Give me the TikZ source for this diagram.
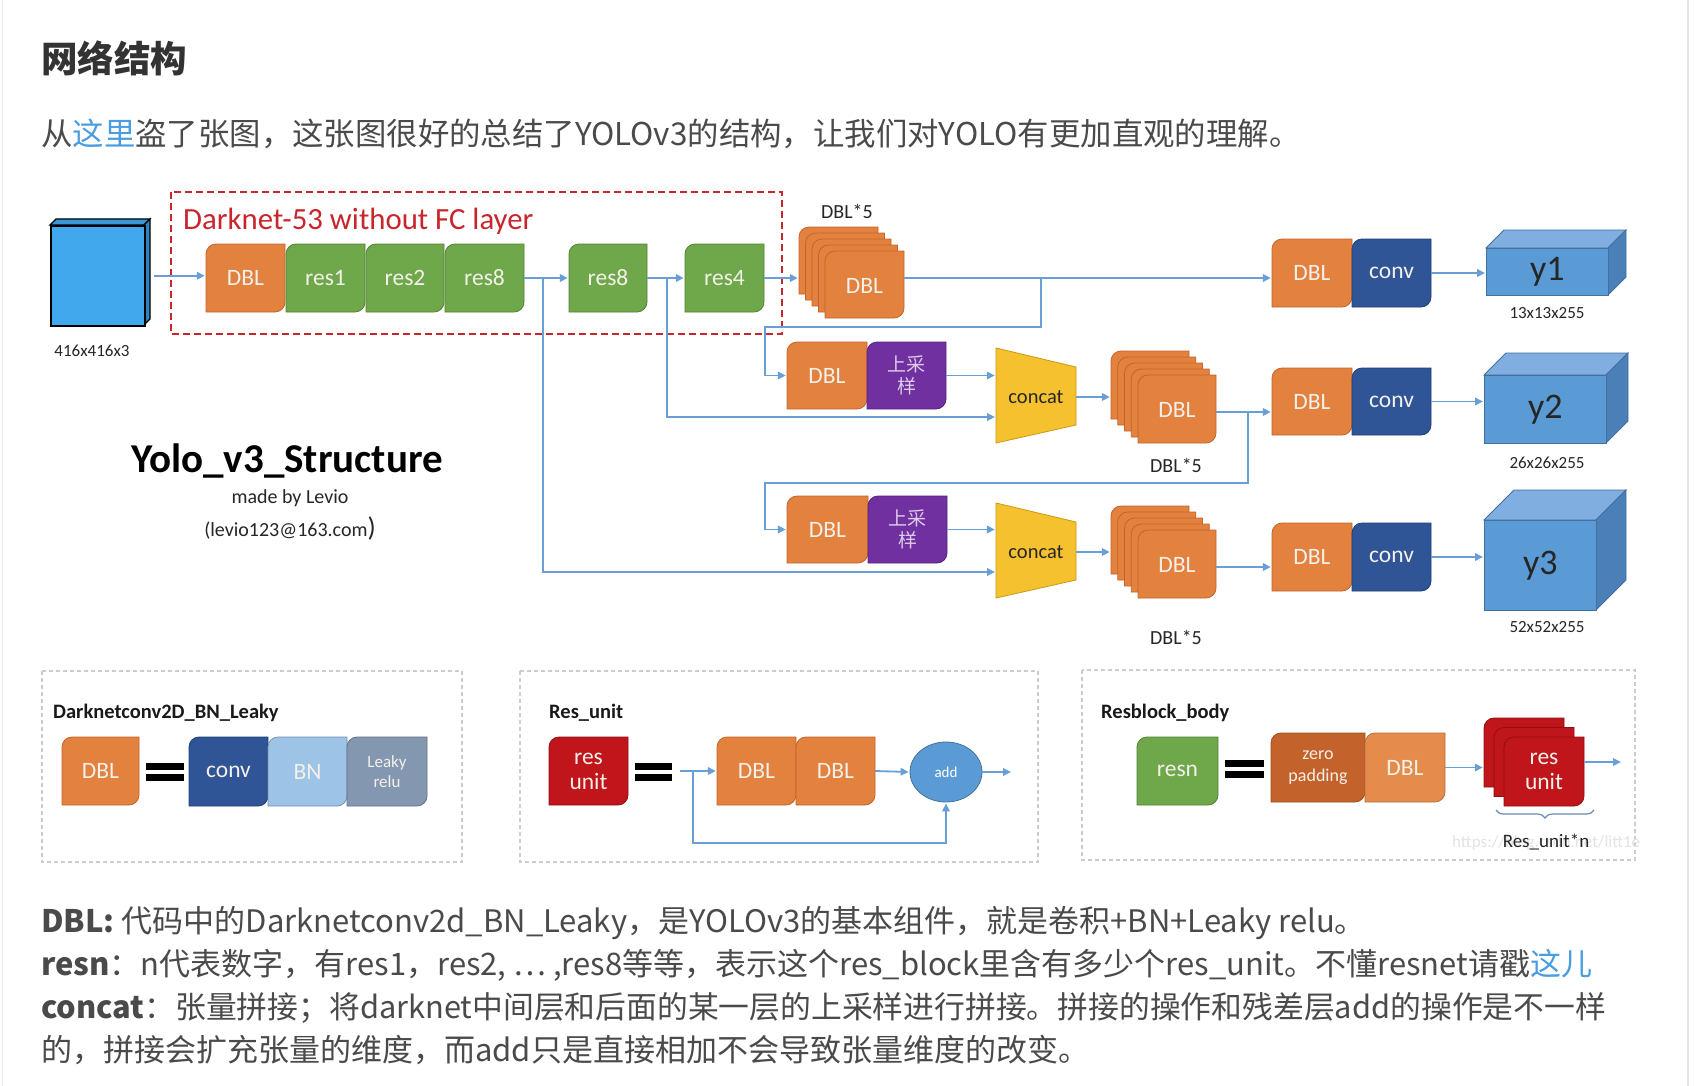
\documentclass[tikz,border=0pt]{standalone}
\usepackage{fontspec}
\setmainfont{Carlito}
\newfontfamily\cjk{Noto Sans CJK SC}
\usetikzlibrary{arrows.meta,decorations.pathreplacing,shapes.geometric}
\definecolor{org}{HTML}{E3813F}\definecolor{orgB}{HTML}{C4642A}
\definecolor{grn}{HTML}{6FA84A}\definecolor{grnB}{HTML}{557F36}
\definecolor{pur}{HTML}{7030A0}\definecolor{purB}{HTML}{56237E}
\definecolor{cvb}{HTML}{2F5597}\definecolor{cvbB}{HTML}{203F73}
\definecolor{ylw}{HTML}{F5C12E}\definecolor{ylwB}{HTML}{C99A12}
\definecolor{rbx}{HTML}{C9252C}
\definecolor{lnc}{HTML}{6A9ED6}
\definecolor{cF}{HTML}{5B9BD5}\definecolor{cT}{HTML}{80AEE0}\definecolor{cS}{HTML}{4A7FB8}\definecolor{cE}{HTML}{41719C}
\definecolor{iF}{HTML}{41A8EE}\definecolor{iT}{HTML}{3A98D8}\definecolor{iS}{HTML}{2E84C0}
\definecolor{bnc}{HTML}{9DC3E6}\definecolor{lrc}{HTML}{8497B0}
\definecolor{rsu}{HTML}{C0151A}\definecolor{rsuB}{HTML}{8E0F12}
\definecolor{zpc}{HTML}{C4622B}\definecolor{dlc}{HTML}{E58B4C}
\definecolor{txt}{HTML}{333333}\definecolor{body}{HTML}{4A4A4A}\definecolor{link}{HTML}{4A9DE0}
\definecolor{blkT}{HTML}{F4F0EA}\definecolor{upT}{HTML}{DCCCEA}
\newcommand\shp[5]{\filldraw[#1] (#2,#3+10) .. controls (#2,#3+4.5) and (#2+4.5,#3) .. (#2+10,#3) -- (#4,#3) -- (#4,#5-10) .. controls (#4,#5-4.5) and (#4-4.5,#5) .. (#4-10,#5) -- (#2,#5) -- cycle;}
\newcommand\blk[8]{\shp{#6}{#2}{#3}{#4}{#5}%
  \node[lbl,minimum width={#4-#2},minimum height={#5-#3},#7] (#1) at ({(#2+#4)/2},{(#3+#5)/2}) {#8};}
\newcommand\cube[7]{%
  \filldraw[fill=cT,draw=cE,line width=0.8] (#2,#3) -- (#2+#6,#3-#6) -- (#4+#6,#3-#6) -- (#4,#3) -- cycle;
  \filldraw[fill=cS,draw=cE,line width=0.8] (#4,#3) -- (#4+#6,#3-#6) -- (#4+#6,#5-#6) -- (#4,#5) -- cycle;
  \node[fill=cF,draw=cE,line width=0.8,inner sep=0,minimum width={#4-#2},minimum height={#5-#3},anchor=north west,font=\fontsize{36}{38}\selectfont,text=black!85] (#1) at (#2,#3) {#7};}
\begin{document}
\begin{tikzpicture}[x=1pt,y=-1pt,
  oblk/.style={fill=org,draw=orgB,line width=0.8},
  gblk/.style={fill=grn,draw=grnB,line width=0.8},
  pblk/.style={fill=pur,draw=purB,line width=0.8},
  cblk/.style={fill=cvb,draw=cvbB,line width=0.8},
  rblk/.style={fill=rsu,draw=rsuB,line width=0.8},
  lbl/.style={inner sep=0,align=center,text=blkT,font=\fontsize{23.5}{25}\selectfont},
  uptxt/.style={font=\cjk\fontsize{19}{22}\selectfont,text=upT},
  arr/.style={draw=lnc,line width=1.8pt,-{Triangle[length=8pt,width=7.5pt]},shorten >=1pt},
  dim/.style={inner sep=0,font=\fontsize{17}{19}\selectfont,text=black!85},
  pnl/.style={draw=gray!40,dash pattern=on 4pt off 3pt,line width=1.3pt},
  ptitle/.style={anchor=west,inner sep=0,font=\bfseries\fontsize{20.5}{22}\selectfont,text=black!90},
  eqbar/.style={fill=black},
  para/.style={anchor=west,inner sep=0,font=\cjk\fontsize{31}{34}\selectfont,text=body}]
\fill[white] (0,0) rectangle (1694,1086);
\useasboundingbox (0,0) rectangle (1694,1086);
\draw[gray!15,line width=1pt] (2,0) -- (2,1086);
\draw[gray!20,line width=1.5pt] (1688,0) -- (1688,1086);

% header texts
\node[anchor=west,inner sep=0,font=\cjk\bfseries\fontsize{36.5}{40}\selectfont,text=txt] (head) at (41,58) {网络结构};
\node[para,font=\cjk\fontsize{31.4}{34}\selectfont] (intro) at (41,134) {从\textcolor{link}{这里}盗了张图，这张图很好的总结了YOLOv3的结构，让我们对YOLO有更加直观的理解。};

% input cube
\filldraw[fill=iT,draw=black,line width=1.2] (50,225) -- (56,219) -- (150,219) -- (144,225) -- cycle;
\filldraw[fill=iS,draw=black,line width=1.2] (144,225) -- (150,219) -- (150,319) -- (144,325) -- cycle;
\node[draw=black,fill=iF,line width=1.5,inner sep=0,minimum width=94,minimum height=100,anchor=north west] (inp) at (50,225) {};
\node[dim] (inl) at (92,351) {416x416x3};

% darknet box
\draw[rbx,line width=2.2pt,dash pattern=on 7pt off 4pt] (171,192) rectangle (782,334);
\node[anchor=west,inner sep=0,text=rbx,font=\fontsize{30.8}{32}\selectfont] (dkl) at (183,221) {Darknet-53 without FC layer};

% row 1 blocks
\blk{dbl0}{206}{244}{285}{312}{oblk}{}{DBL}
\blk{res1}{286}{244}{365}{312}{gblk}{}{res1}
\blk{res2}{366}{244}{444}{312}{gblk}{}{res2}
\blk{res8a}{445}{244}{524}{312}{gblk}{}{res8}
\blk{res8b}{569}{244}{647}{312}{gblk}{}{res8}
\blk{res4}{685}{244}{764}{312}{gblk}{}{res4}

% stack 1
\foreach \i in {4,3,2,1,0} {\shp{oblk}{825-\i*6.5}{251-\i*6}{904-\i*6.5}{318-\i*6}}
\node[lbl] (s1t) at (864.5,286) {DBL};
\node[inner sep=0,minimum width=105,minimum height=91] (s1) at (851.5,272.5) {};
\node[dim,font=\fontsize{20}{22}\selectfont] (s1l) at (847,211) {DBL*5};

% row 2
\blk{dbl2}{787}{342}{867}{409}{oblk}{}{DBL}
\blk{up2}{867}{342}{946}{409}{pblk}{uptxt}{上采\\样}
\filldraw[fill=ylw,draw=ylwB,line width=0.8] (996,348) -- (1076,367) -- (1076,425) -- (996,443) -- cycle;
\node[inner sep=0,minimum width=80,minimum height=95,font=\fontsize{20.5}{22}\selectfont,text=black!85] (cc2) at (1036,397) {concat};
\foreach \i in {4,3,2,1,0} {\shp{oblk}{1138-\i*6.75}{375-\i*6}{1216-\i*6.75}{443-\i*6}}
\node[lbl] (s2t) at (1177,410) {DBL};
\node[inner sep=0,minimum width=105,minimum height=92] (s2) at (1163.5,397) {};
\node[dim,font=\fontsize{20}{22}\selectfont] (s2l) at (1176,465) {DBL*5};

% row 3
\blk{dbl3}{787}{496}{868}{563}{oblk}{}{DBL}
\blk{up3}{868}{496}{947}{563}{pblk}{uptxt}{上采\\样}
\filldraw[fill=ylw,draw=ylwB,line width=0.8] (996,503) -- (1076,522) -- (1076,580) -- (996,598) -- cycle;
\node[inner sep=0,minimum width=80,minimum height=95,font=\fontsize{20.5}{22}\selectfont,text=black!85] (cc3) at (1036,552) {concat};
\foreach \i in {4,3,2,1,0} {\shp{oblk}{1138-\i*6.75}{530-\i*6}{1216-\i*6.75}{598-\i*6}}
\node[lbl] (s3t) at (1177,565) {DBL};
\node[inner sep=0,minimum width=105,minimum height=92] (s3) at (1163.5,552) {};
\node[dim,font=\fontsize{20}{22}\selectfont] (s3l) at (1176,637) {DBL*5};

% output heads
\blk{dby1}{1272}{239}{1352}{307}{oblk}{}{DBL}
\blk{cv1}{1352}{239}{1431}{307}{cblk}{}{conv}
\blk{dby2}{1272}{368}{1352}{435}{oblk}{}{DBL}
\blk{cv2}{1352}{368}{1431}{435}{cblk}{}{conv}
\blk{dby3}{1272}{523}{1352}{591}{oblk}{}{DBL}
\blk{cv3}{1352}{523}{1431}{591}{cblk}{}{conv}
\cube{y1}{1486}{248}{1608}{295}{18}{y1}
\cube{y2}{1484}{375}{1606}{443}{22}{y2}
\cube{y3}{1484}{520}{1596}{610}{30}{y3}
\node[dim] (y1l) at (1547,313) {13x13x255};
\node[dim] (y2l) at (1547,463) {26x26x255};
\node[dim] (y3l) at (1547,627) {52x52x255};

% title
\node[inner sep=0,font=\bfseries\fontsize{41}{44}\selectfont,text=black] (tt) at (287,461) {Yolo\_v3\_Structure};
\node[inner sep=0,font=\fontsize{20}{22}\selectfont,text=black!85] (mb) at (290,498) {made by Levio};
\node[inner sep=0,font=\fontsize{20}{22}\selectfont,text=black!85] (em) at (290,528) {(levio123@163.com{\fontsize{27}{27}\selectfont)}};

% connectors
\draw[arr] ([xshift=8pt]inp.east) -- (inp.east -| dbl0.west);
\draw[arr] (res8a.east) -- (res8b.west);
\draw[arr] (res8b.east) -- (res4.west);
\draw[arr] (res4.east) -- (res4.east -| s1.west);
\coordinate (j1) at (543,278); \coordinate (k3) at (996,572);
\coordinate (j2) at (667,278); \coordinate (k2) at (996,417);
\draw[arr] (j1) |- (k3);
\draw[arr] (j2) |- (k2);
\draw[arr] (s1.east |- res4.east) -- (res4.east -| dby1.west);
\coordinate (j3) at (1041,278); \coordinate (t2) at (765,327);
\draw[arr] (j3) |- (t2) |- (dbl2.west);
\draw[arr] (up2.east) -- (up2.east -| cc2.west);
\draw[arr] (cc2.east) -- (cc2.east -| s2.west);
\coordinate (r2) at (1216,412);
\draw[arr] (r2) -- (r2 -| dby2.west);
\coordinate (j4) at (1248,412); \coordinate (t3) at (765,483);
\draw[arr] (j4) |- (t3) |- (dbl3.west);
\draw[arr] (up3.east) -- (up3.east -| cc3.west);
\draw[arr] (cc3.east) -- (cc3.east -| s3.west);
\coordinate (r3) at (1216,567);
\draw[arr] (r3) -- (r3 -| dby3.west);
\draw[arr] (cv1.east) -- (cv1.east -| y1.west);
\draw[arr] (cv2.east) -- (cv2.east -| y2.west);
\draw[arr] (cv3.east) -- (cv3.east -| y3.west);

% bottom panels
\draw[pnl] (42,671) rectangle (462,862);
\draw[pnl] (520,671) rectangle (1038,862);
\draw[pnl] (1082,670) rectangle (1635,860);

% panel 1
\node[ptitle] (pt1) at (53,713) {Darknetconv2D\_BN\_Leaky};
\blk{pdbl}{62}{737}{139}{805}{oblk}{}{DBL}
\fill[eqbar] (146,763) rectangle (184,770);
\fill[eqbar] (146,774) rectangle (184,781);
\blk{pconv}{189}{737}{268}{806}{cblk}{}{conv}
\blk{pbn}{268}{737}{347}{806}{fill=bnc,draw=bnc!75!black,line width=0.8}{}{BN}
\blk{plr}{347}{737}{427}{806}{fill=lrc,draw=lrc!75!black,line width=0.8}{font=\fontsize{17}{20}\selectfont}{Leaky\\relu}

% panel 2
\node[ptitle] (pt2) at (549,713) {Res\_unit};
\blk{pru}{549}{737}{628}{805}{rblk}{}{res\\unit}
\fill[eqbar] (635,763) rectangle (672,770);
\fill[eqbar] (635,774) rectangle (672,781);
\blk{rd1}{717}{737}{796}{805}{oblk}{}{DBL}
\blk{rd2}{796}{737}{875}{805}{oblk}{}{DBL}
\node[ellipse,fill=cF,draw=cE,line width=0.8,inner sep=0,minimum width=72,minimum height=60,font=\fontsize{15}{16}\selectfont,text=white] (add) at (946,772) {add};
\coordinate (q0) at (680,771);
\draw[arr] (q0) -- (q0 -| rd1.west);
\draw[arr] (rd2.east) -- (add.west);
\coordinate (q1) at (1012,772);
\draw[arr] (add.east) -- (q1);
\coordinate (q2) at (693,771); \coordinate (q3) at (693,843);
\draw[arr] (q2) -- (q3) -| (add.south);

% panel 3
\node[ptitle] (pt3) at (1101,713) {Resblock\_body};
\blk{presn}{1137}{737}{1218}{805}{gblk}{}{resn}
\fill[eqbar] (1225,760) rectangle (1264,767);
\fill[eqbar] (1225,771) rectangle (1264,778);
\blk{pzp}{1271}{733}{1365}{802}{fill=zpc,draw=zpc!80!black,line width=0.8}{font=\fontsize{18}{22}\selectfont}{zero\\padding}
\blk{pdb}{1365}{733}{1445}{802}{fill=dlc,draw=dlc!80!black,line width=0.8}{}{DBL}
\foreach \i in {2,1,0} {\shp{rblk}{1504-\i*10}{737-\i*9.5}{1584-\i*10}{806-\i*9.5}}
\node[lbl] (rst) at (1544,771.5) {res\\unit};
\node[inner sep=0,minimum width=100,minimum height=88] (rs) at (1534,762) {};
\draw[arr] (pdb.east) -- (pdb.east -| rs.west);
\coordinate (q5) at (1622,762);
\draw[arr] (rs.east) -- (q5);
\draw[draw=cE!80,line width=1.2pt,decorate,decoration={brace,amplitude=8pt,mirror}] (1496,810) -- (1594,810);
\node[inner sep=0,anchor=west,font=\fontsize{17}{19}\selectfont,text=gray!22] (wm) at (1452,843) {https://blog.csdn.net/litt1e};
\node[inner sep=0,font=\fontsize{19}{21}\selectfont,text=black!85] (rul) at (1546,842) {Res\_unit*n};

% bottom paragraphs
\node[para] (b1) at (41,923) {\textbf{DBL:} 代码中的Darknetconv2d\_BN\_Leaky，是YOLOv3的基本组件，就是卷积+BN+Leaky relu。};
\node[para] (b2) at (41,965) {\textbf{resn}：n代表数字，有res1，res2, … ,res8等等，表示这个res\_block里含有多少个res\_unit。不懂resnet请戳\textcolor{link}{这儿}};
\node[para,font=\cjk\fontsize{30.8}{34}\selectfont] (b3) at (41,1008) {\textbf{concat}：张量拼接；将darknet中间层和后面的某一层的上采样进行拼接。拼接的操作和残差层add的操作是不一样};
\node[para] (b4) at (41,1050) {的，拼接会扩充张量的维度，而add只是直接相加不会导致张量维度的改变。};
\end{tikzpicture}
\end{document}
